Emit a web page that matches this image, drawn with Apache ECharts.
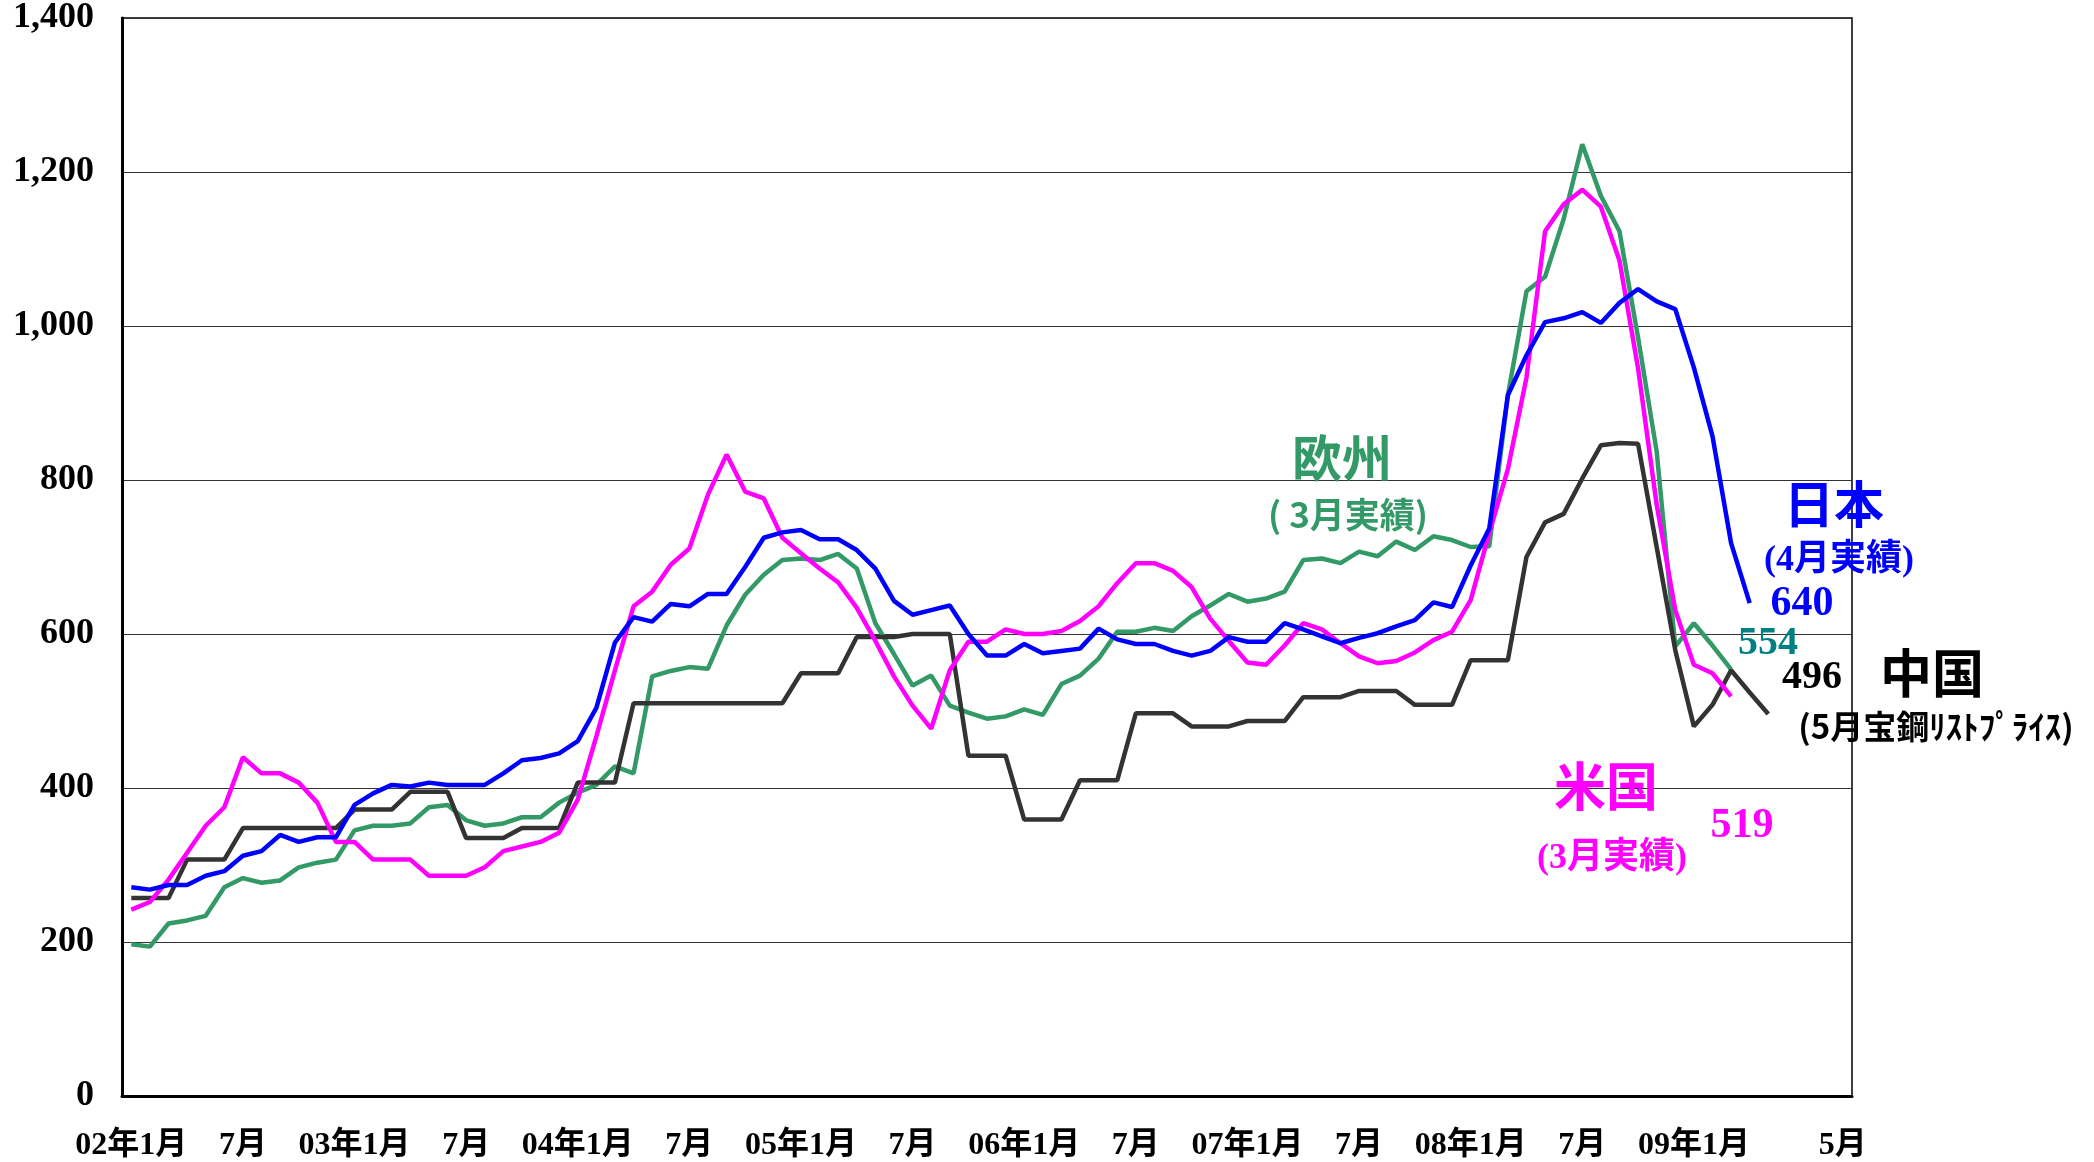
<!DOCTYPE html>
<html><head><meta charset="utf-8">
<script src="https://cdn.jsdelivr.net/npm/echarts@6/dist/echarts.min.js"></script>
<style>html,body{margin:0;background:#fff}#c{width:2094px;height:1162px}</style>
</head><body><div id="c"></div>
<script>
// monthly, 2002-01 .. 2009-09
const months=[];
for(let y=2002;y<=2009;y++)for(let m=1;m<=12;m++)if(months.length<93)months.push(y+"-"+m);

const tickLabels={0:"02年1月",6:"7月",12:"03年1月",18:"7月",24:"04年1月",30:"7月",36:"05年1月",42:"7月",
  48:"06年1月",54:"7月",60:"07年1月",66:"7月",72:"08年1月",78:"7月",84:"09年1月",92:"5月"};

const japan=[271,268,274,274,286,292,312,318,339,330,336,336,
  378,393,404,402,407,404,404,404,419,436,439,445,
  461,504,589,622,616,639,636,652,652,687,725,732,
  735,723,723,709,685,643,625,631,637,600,572,572,
  587,575,578,581,607,593,587,587,578,572,578,596,
  590,590,614,606,597,588,595,601,610,618,641,635,
  689,737,910,962,1005,1010,1018,1004,1030,1048,1032,1022,
  946,857,718,640];
const usa=[242,252,281,316,351,375,440,419,419,407,381,330,
  330,307,307,307,286,286,286,297,318,324,330,342,
  385,467,553,636,655,690,711,781,833,785,776,725,
  705,685,667,634,591,545,507,477,553,590,590,606,
  600,600,604,617,636,666,692,692,682,661,620,591,
  563,560,585,614,606,588,571,562,565,576,592,603,
  644,731,814,933,1123,1158,1177,1155,1085,945,768,631,
  560,549,519];
const europe=[197,194,224,228,234,271,283,277,280,297,303,307,
  345,351,351,354,375,378,358,351,354,362,362,381,
  394,404,428,419,545,552,557,555,611,651,677,696,
  698,696,704,685,614,574,533,546,507,498,490,493,
  502,495,535,546,568,603,603,608,604,623,637,652,
  642,646,655,696,698,692,707,701,720,709,727,722,
  713,714,910,1045,1064,1139,1236,1169,1123,985,837,584,
  614,585,554];
const china=[257,257,257,307,307,307,348,348,348,348,348,348,
  372,372,372,395,395,395,335,335,335,348,348,348,
  407,407,407,510,510,510,510,510,510,510,510,510,
  549,549,549,596,596,596,600,600,600,442,442,442,
  359,359,359,410,410,410,497,497,497,480,480,480,
  487,487,487,518,518,518,526,526,526,508,508,508,
  566,566,566,700,745,756,802,845,848,847,713,579,
  480,508,553,524,496];

const serif="Liberation Serif, Noto Sans CJK JP";
const gothic="Noto Sans CJK JP";

const ser=(name,d,color)=>({name,type:"line",data:d,symbol:"none",connectNulls:false,
  lineStyle:{color,width:4.5},itemStyle:{color},z:3});

// label centred on (x,y)
const txt=(t,x,y,size,color,font)=>({type:"text",x,y,z:10,
  style:{text:t,fill:color,font:`bold ${size}px ${font}`,align:"center",verticalAlign:"middle"}});

const chart=echarts.init(document.getElementById("c"));
chart.setOption({
  animation:false,
  grid:{left:122,top:18,right:242,bottom:65,show:true,borderColor:"#000",borderWidth:1.5},
  xAxis:{type:"category",data:months,boundaryGap:true,
    axisLine:{lineStyle:{color:"#000",width:3}},
    axisTick:{inside:true,length:9,interval:0,lineStyle:{color:"#666",width:2}},
    axisLabel:{interval:0,formatter:(v,i)=>tickLabels[i]||"",margin:34,
      fontSize:32,fontWeight:"bold",color:"#000",fontFamily:serif}},
  yAxis:{type:"value",min:0,max:1400,interval:200,
    axisLine:{show:true,lineStyle:{color:"#000",width:3}},
    axisTick:{show:false},
    splitLine:{lineStyle:{color:"#333",width:1.2}},
    axisLabel:{formatter:v=>v.toLocaleString("en-US"),margin:28,
      fontSize:36,fontWeight:"bold",color:"#000",fontFamily:serif}},
  series:[
    ser("欧州",europe,"#339966"),
    ser("中国",china,"#333333"),
    ser("米国",usa,"#ff00ff"),
    ser("日本",japan,"#0000ff")
  ],
  graphic:[
    txt("欧州",1342,458,50,"#339966",gothic),
    txt("( 3月実績)",1348,515,35,"#339966",gothic),
    txt("日本",1834,504,50,"#0000ff",gothic),
    txt("(4月実績)",1839,561,36,"#0000ff",serif),
    txt("640",1802,604,42,"#0000ff",serif),
    txt("554",1768,644,40,"#008080",serif),
    txt("496",1812,678,40,"#000",serif),
    txt("中国",1932,673,52,"#000",gothic),
    txt("(5月宝鋼ﾘｽﾄﾌﾟﾗｲｽ)",1936,726,33,"#000",gothic),
    txt("米国",1606,786,52,"#ff00ff",gothic),
    txt("(3月実績)",1612,859,36,"#ff00ff",serif),
    txt("519",1742,826,42,"#ff00ff",serif)
  ]
});
</script>
</body></html>
